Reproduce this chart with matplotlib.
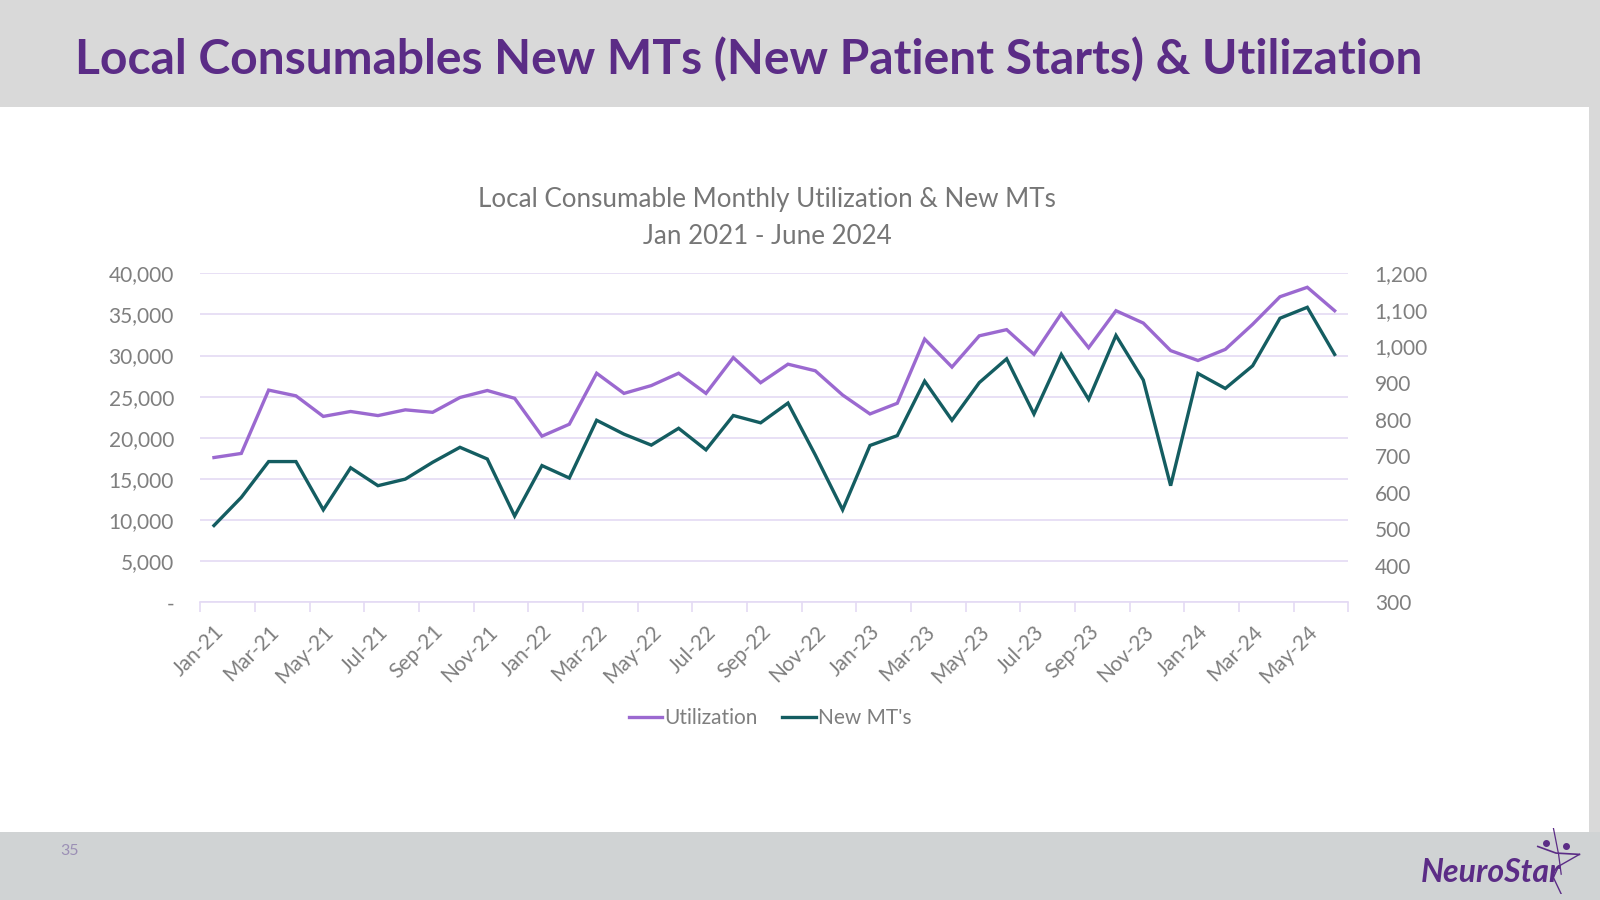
import numpy as np
import matplotlib.pyplot as plt
from matplotlib.patches import Rectangle
from matplotlib.ticker import FuncFormatter

plt.rcParams['font.family'] = ['Lato', 'DejaVu Sans']

# monthly values, Jan 2021 .. Jun 2024
utilization = [17600, 18100, 25800, 25100, 22600, 23200, 22700, 23400, 23100, 24900, 25750, 24800,
               20200, 21650, 27850, 25400, 26350, 27850, 25400, 29750, 26700, 28950, 28150, 25200,
               22900, 24200, 32000, 28600, 32400, 33150, 30150, 35100, 30950, 35450, 33950, 30600,
               29400, 30750, 33800, 37150, 38300, 35450]
new_mts = [510, 587, 685, 685, 553, 668, 619, 637, 683, 724, 692, 536,
           674, 640, 798, 760, 730, 776, 717, 811, 791, 845, 703, 553,
           729, 756, 905, 798, 901, 966, 815, 978, 855, 1030, 908, 619,
           926, 885, 947, 1077, 1107, 978]
tick_labels = ["Jan-21", "Mar-21", "May-21", "Jul-21", "Sep-21", "Nov-21",
               "Jan-22", "Mar-22", "May-22", "Jul-22", "Sep-22", "Nov-22",
               "Jan-23", "Mar-23", "May-23", "Jul-23", "Sep-23", "Nov-23",
               "Jan-24", "Mar-24", "May-24"]

PURPLE = "#5b2c86"
UTIL_C = "#9b69d0"
MT_C = "#145d61"
GRID_C = "#e4daf4"
TEXT_C = "#7f7f7f"

fig = plt.figure(figsize=(16, 9), dpi=100)
fig.patch.set_facecolor("white")

# slide background: header, footer, right strip
fig.patches.append(Rectangle((0, 1 - 107 / 900), 1, 107 / 900, transform=fig.transFigure,
                             facecolor="#d9d9d9", edgecolor="none", zorder=-5))
fig.patches.append(Rectangle((0, 0), 1, 68 / 900, transform=fig.transFigure,
                             facecolor="#d0d3d4", edgecolor="none", zorder=-5))
fig.patches.append(Rectangle((1589 / 1600, 68 / 900), 11 / 1600, 725 / 900, transform=fig.transFigure,
                             facecolor="#d9d9d9", edgecolor="none", zorder=-5))

fig.text(75 / 1600, 1 - 60 / 900, "Local Consumables New MTs (New Patient Starts) & Utilization",
         fontsize=34.6, fontweight="bold", color=PURPLE, ha="left", va="center")
fig.text(767 / 1600, 1 - 200 / 900, "Local Consumable Monthly Utilization & New MTs",
         fontsize=18.7, color="#767676", ha="center", va="center")
fig.text(767 / 1600, 1 - 236 / 900, "Jan 2021 - June 2024",
         fontsize=18.7, color="#767676", ha="center", va="center")
fig.text(70 / 1600, 1 - 851 / 900, "35", fontsize=11.5, color="#9b8fb5", ha="center", va="center")
fig.text(1491 / 1600, 1 - 872 / 900, "NeuroStar", fontsize=23, fontweight="bold", fontstyle="italic",
         color=PURPLE, ha="center", va="center")

ax = fig.add_axes([200.3 / 1600, 1 - 602.3 / 900, 1148 / 1600, 329 / 900])
ax2 = ax.twinx()
x = np.arange(len(utilization))

l1, = ax.plot(x, utilization, color=UTIL_C, lw=2.4, solid_joinstyle="miter", label="Utilization", zorder=3)
l2, = ax2.plot(x, new_mts, color=MT_C, lw=2.4, solid_joinstyle="miter", label="New MT's", zorder=3)

ax.set_xlim(-0.5, len(x) - 0.5)
ax.set_ylim(0, 40000)
ax2.set_ylim(300, 1200)
ax.set_yticks(np.arange(0, 40001, 5000))
ax2.set_yticks(np.arange(300, 1201, 100))
ax.yaxis.set_major_formatter(FuncFormatter(lambda v, p: "-" if v == 0 else f"{v:,.0f}"))
ax2.yaxis.set_major_formatter(FuncFormatter(lambda v, p: f"{v:,.0f}"))
ax.grid(axis="y", color=GRID_C, lw=1.2, zorder=0)
ax.set_axisbelow(True)

for a in (ax, ax2):
    for s in a.spines.values():
        s.set_visible(False)
ax.spines["bottom"].set_visible(True)
ax.spines["bottom"].set_color(GRID_C)
ax.spines["bottom"].set_linewidth(1.2)

# boundary ticks every two months, labels on month centres
ax.set_xticks(np.arange(-0.5, len(x), 2))
ax.set_xticklabels([])
ax.tick_params(axis="x", which="major", length=7, color=GRID_C, width=1.2)
ax.set_xticks(np.arange(0, len(x), 2), minor=True)
ax.set_xticklabels(tick_labels, minor=True, rotation=45, ha="right", rotation_mode="anchor",
                   fontsize=15, color=TEXT_C)
ax.tick_params(axis="x", which="minor", length=0, pad=14)

ax.tick_params(axis="y", length=0, pad=19, labelsize=15, labelcolor=TEXT_C)
ax2.tick_params(axis="y", length=0, pad=19, labelsize=15, labelcolor=TEXT_C)

fig.legend(handles=[l1, l2], loc="center", bbox_to_anchor=(770 / 1600, 1 - 718 / 900), ncol=2,
           frameon=False, fontsize=15, labelcolor=TEXT_C, handlelength=1.6, handletextpad=0.1,
           columnspacing=1.2)

# little star mark next to the logo text
lx = fig.add_axes([1530 / 1600, 6 / 900, 52 / 1600, 66 / 900])
lx.set_xlim(0, 1)
lx.set_ylim(0, 1)
lx.axis("off")
lx.plot([0.45, 0.55, 0.6], [1.0, 0.6, 0.3], color=PURPLE, lw=0.9)
lx.plot([0.15, 0.5, 0.95], [0.72, 0.62, 0.6], color=PURPLE, lw=1.2)
lx.plot([0.95, 0.55, 0.45, 0.6], [0.6, 0.42, 0.25, 0.0], color=PURPLE, lw=1.0)
lx.plot([0.3, 0.7], [0.78, 0.72], "o", color=PURPLE, ms=4)

fig.savefig("out.png", dpi=100)
